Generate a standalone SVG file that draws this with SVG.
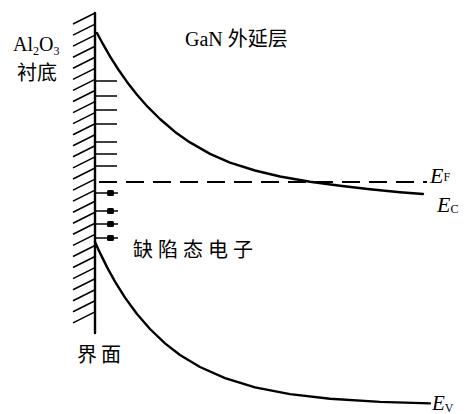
<svg xmlns="http://www.w3.org/2000/svg" width="473" height="414" viewBox="0 0 473 414">
<style>
.ln{stroke:#000;stroke-width:2.4;fill:none;stroke-linecap:round;stroke-linejoin:round}
.th{stroke:#000;stroke-width:1.6;fill:none}
.cjk{font-family:"Liberation Serif","Noto Sans CJK SC",serif;font-size:20px;fill:#000}
.lat{font-family:"Liberation Serif",serif;fill:#000}
</style>
<rect width="473" height="414" fill="#fff"/>
<g id="substrate">
<line class="ln" x1="95" y1="13" x2="95" y2="333"/>
<g class="th">
<path d="M95,13L73,24M95,24.1L73,35.1M95,35.1L73,46.1M95,46.2L73,57.2M95,57.3L73,68.3M95,68.4L73,79.4M95,79.4L73,90.4M95,90.5L73,101.5M95,101.6L73,112.6M95,112.6L73,123.6M95,123.7L73,134.7M95,134.8L73,145.8M95,145.8L73,156.8M95,156.9L73,167.9M95,168L73,179M95,179.1L73,190.1M95,190.1L73,201.1M95,201.2L73,212.2M95,212.3L73,223.3M95,223.3L73,234.3M95,234.4L73,245.4M95,245.5L73,256.5M95,256.5L73,267.5M95,267.6L73,278.6M95,278.7L73,289.7M95,289.8L73,300.8M95,300.8L73,311.8M95,311.9L73,322.9"/>
</g>
</g>
<g id="states" class="th">
<path d="M95,81H117M95,96H117M95,110H117M95,124H117M95,142H117M95,154H117M95,166H117"/>
<path d="M95,193H118M95,211H118M95,224H118M95,238H118"/>
</g>
<g id="electrons" fill="#000">
<rect x="107" y="190" width="7" height="6" rx="1.5"/>
<rect x="107" y="208" width="7" height="6" rx="1.5"/>
<rect x="107" y="221" width="7" height="6" rx="1.5"/>
<rect x="107" y="235" width="7" height="6" rx="1.5"/>
</g>
<g id="connectors">
<path id="Ec" class="ln" d="M97,33 L103,44.2 L110,56.4 L118,69 L127,81.9 L137,94.7 L148,107.2 L160,119 L175,131.9 L190,142.4 L210,153.9 L230,162.6 L255,170.5 L280,176.5 L310,181.8 L340,185.8 L370,189.2 L400,192.2 L423,194"/>
<path id="Ev" class="ln" d="M95,242 L100,252.9 L107,267.1 L115,281.6 L125,297.6 L137,314 L150,329 L165,343.4 L180,355 L200,367 L225,378.2 L255,387.4 L290,394.1 L330,398.8 L380,401.9 L430,403.4"/>
<line id="Ef" x1="99" y1="182" x2="427" y2="182" stroke="#000" stroke-width="1.8" stroke-dasharray="18 9"/>
</g>
<g id="labels">
<text class="lat" x="13" y="51" font-size="20">Al<tspan font-size="12" dy="4">2</tspan><tspan dy="-4">O</tspan><tspan font-size="12" dy="4">3</tspan></text>
<text class="cjk" x="17" y="80">衬底</text>
<text class="cjk" x="185" y="46"><tspan class="lat">GaN</tspan> 外延层</text>
<text class="cjk" x="133" y="257" letter-spacing="5">缺陷态电子</text>
<text class="cjk" x="77" y="362" letter-spacing="4">界面</text>
<text class="lat" x="430" y="183" font-size="22" font-style="italic">E<tspan font-style="normal" font-size="12" dy="-2">F</tspan></text>
<text class="lat" x="437" y="212" font-size="22" font-style="italic">E<tspan font-style="normal" font-size="12" dy="1">C</tspan></text>
<text class="lat" x="432" y="410" font-size="21" font-style="italic">E<tspan font-style="normal" font-size="12" dy="2">V</tspan></text>
</g>
</svg>
